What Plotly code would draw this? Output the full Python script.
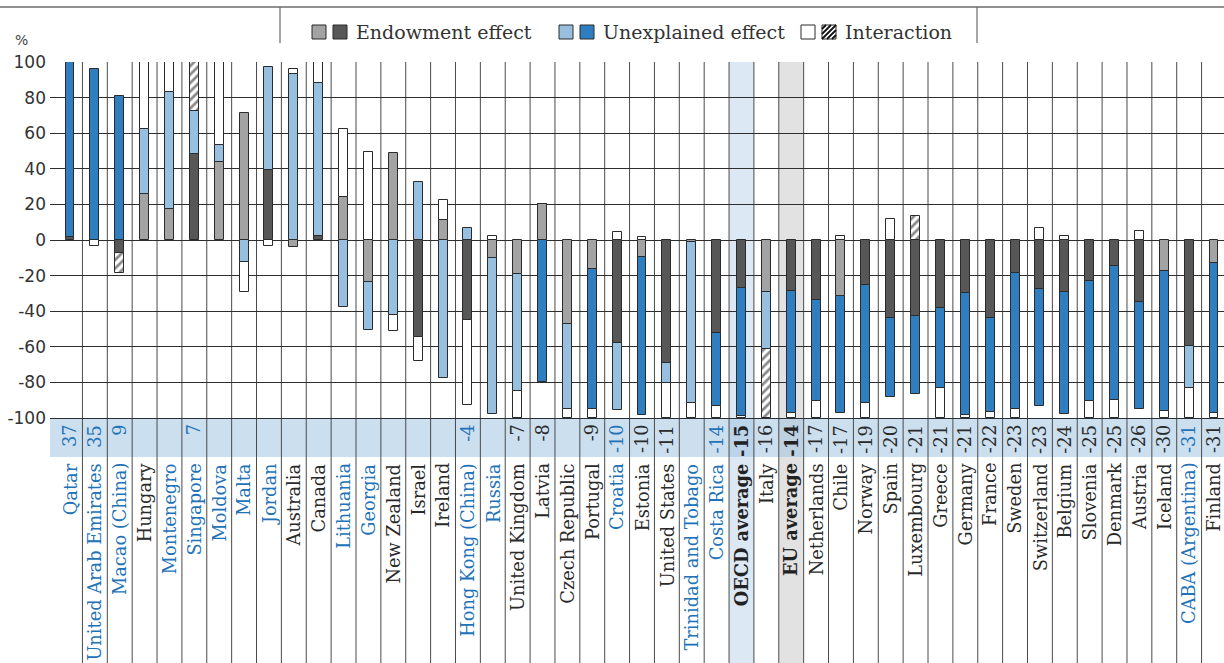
import plotly.graph_objects as go

countries = ["Qatar", "United Arab Emirates", "Macao (China)", "Hungary", "Montenegro", "Singapore",
             "Moldova", "Malta", "Jordan", "Australia", "Canada", "Lithuania", "Georgia", "New Zealand",
             "Israel", "Ireland", "Hong Kong (China)", "Russia", "United Kingdom", "Latvia",
             "Czech Republic", "Portugal", "Croatia", "Estonia", "United States", "Trinidad and Tobago",
             "Costa Rica", "OECD average", "Italy", "EU average", "Netherlands", "Chile", "Norway",
             "Spain", "Luxembourg", "Greece", "Germany", "France", "Sweden", "Switzerland", "Belgium",
             "Slovenia", "Denmark", "Austria", "Iceland", "CABA (Argentina)", "Finland"]
gaps = ["37", "35", "9", "", "", "7", "", "", "", "", "", "", "", "", "", "", "-4", "", "-7", "-8",
        "", "-9", "-10", "-10", "-11", "", "-14", "-15", "-16", "-14", "-17", "-17", "-19", "-20",
        "-21", "-21", "-21", "-22", "-23", "-23", "-24", "-25", "-25", "-26", "-30", "-31", "-31"]
partner = [1, 1, 1, 0, 1, 1, 1, 1, 1, 0, 0, 1, 1, 0, 0, 0, 1, 1, 0, 0, 0, 0, 1, 0, 0, 1, 1, 0, 0, 0,
           0, 0, 0, 0, 0, 0, 0, 0, 0, 0, 0, 0, 0, 0, 0, 1, 0]
average = [c.endswith("average") for c in countries]

endow = [1.5, 0, -7.5, 25.7, 17.2, 48.1, 43.6, 71.2, 39.1, -4.1, 2.2, 24.0, -23.4, 48.7, -54.7, 11.2,
         -45.0, -10.0, -19.3, 20.2, -47.4, -16.5, -58.0, -9.4, -69.3, -1.0, -52.4, -26.8, -29.4, -28.7,
         -33.7, -31.3, -25.3, -43.6, -42.5, -38.0, -29.6, -43.6, -18.4, -27.5, -29.0, -22.8, -14.4,
         -34.6, -17.2, -59.6, -12.7]
endow_sig = [1, 1, 1, 0, 0, 1, 0, 0, 1, 0, 1, 0, 0, 0, 1, 0, 1, 0, 0, 0, 0, 0, 1, 0, 1, 0, 1, 1, 0, 1,
             1, 0, 1, 1, 1, 1, 1, 1, 1, 1, 1, 1, 1, 1, 0, 1, 0]
unexpl = [98.3, 96.0, 81.1, 36.5, 65.8, 24.6, 9.8, -12.5, 57.9, 93.3, 85.8, -37.8, -27.2, -42.1, 32.4,
          -77.4, 6.9, -87.5, -65.7, -80.0, -47.6, -78.5, -37.7, -89.0, -11.2, -90.4, -40.6, -71.9,
          -31.8, -68.3, -56.6, -66.1, -66.5, -44.8, -44.0, -45.3, -68.7, -52.8, -76.6, -65.8, -68.8,
          -67.5, -75.5, -60.5, -78.7, -23.7, -84.3]
unexpl_sig = [1, 1, 1, 0, 0, 0, 0, 0, 0, 0, 0, 0, 0, 0, 0, 0, 0, 0, 0, 1, 0, 1, 0, 1, 0, 0, 1, 1, 0, 1,
              1, 1, 1, 1, 1, 1, 1, 1, 1, 1, 1, 1, 1, 1, 1, 0, 1]
inter = [0, -3.2, -11.2, 37.8, 17.0, 27.3, 46.6, -16.5, -3.2, 2.8, 12.0, 38.4, 49.6, -9.0, -13.1, 11.3,
         -47.7, 2.4, -15.0, 0, -5.0, -5.0, 4.3, 1.5, -19.5, -8.6, -7.0, -1.3, -38.8, -3.0, -9.7, 2.4,
         -8.2, 11.8, 13.7, -16.7, -1.7, -3.6, -5.0, 6.6, 2.4, -9.7, -10.1, 5.0, -4.1, -16.7, -3.0]
inter_sig = [0, 0, 1, 0, 0, 1, 0, 0, 0, 0, 0, 0, 0, 0, 0, 0, 0, 0, 0, 0, 0, 0, 0, 0, 0, 0, 0, 0, 1, 0,
             0, 0, 0, 0, 1, 0, 0, 0, 0, 0, 0, 0, 0, 0, 0, 0, 0]
y_ticks = [-100, -80, -60, -40, -20, 0, 20, 40, 60, 80, 100]

DGRAY, LGRAY = "#575757", "#a3a3a3"
DBLUE, LBLUE = "#2f7ec0", "#97bfdf"
LABEL_BLUE = "#2272b8"
OUT = "#2b2b2b"
SERIF = "DejaVu Serif"

W, H = 1224, 663
L, T = 50, 62
PW, PH = W - L, H - T
x_idx = list(range(len(countries)))
X0, X1 = -0.804, -0.804 + PW / 24.87
Y1 = 100
Y0 = Y1 - PH / 1.78


def pxx(p):
    return (p - L) / PW


def pxy(p):
    return (H - p) / PH


fig = go.Figure()
common = dict(x=x_idx, width=0.36, showlegend=False, hoverinfo="skip")
fig.add_trace(go.Bar(y=endow, marker=dict(color=[DGRAY if s else LGRAY for s in endow_sig],
                                           line=dict(color=OUT, width=1)), **common))
fig.add_trace(go.Bar(y=unexpl, marker=dict(color=[DBLUE if s else LBLUE for s in unexpl_sig],
                                            line=dict(color=OUT, width=1)), **common))
fig.add_trace(go.Bar(y=inter, marker=dict(color="white", line=dict(color=OUT, width=1),
                                           pattern=dict(shape=["/" if s else "" for s in inter_sig],
                                                        fgcolor="#111", bgcolor="white", size=6,
                                                        solidity=0.45)), **common))

shapes = []
for i, c in enumerate(countries):
    if c == "OECD average":
        shapes.append(dict(type="rect", xref="x", yref="paper", x0=i - 0.5, x1=i + 0.5, y0=0, y1=1,
                           fillcolor="#dce8f4", line=dict(width=0), layer="below"))
    if c == "EU average":
        shapes.append(dict(type="rect", xref="x", yref="paper", x0=i - 0.5, x1=i + 0.5, y0=0, y1=1,
                           fillcolor="#e2e2e2", line=dict(width=0), layer="below"))
shapes.append(dict(type="rect", xref="paper", yref="y", x0=0, x1=1, y0=-100, y1=-121.9,
                   fillcolor="rgba(153,191,223,0.5)", line=dict(width=0), layer="below"))
for i in range(len(countries) - 1):
    shapes.append(dict(type="line", xref="x", yref="paper", x0=i + 0.5, x1=i + 0.5, y0=0, y1=1,
                       line=dict(color="#4a4a4a", width=1), layer="between"))
shapes.append(dict(type="line", xref="paper", yref="paper", x0=pxx(0), x1=pxx(W), y0=pxy(7),
                   y1=pxy(7), line=dict(color="#6a6a6a", width=1.5)))
for xp in (280, 977):
    shapes.append(dict(type="line", xref="paper", yref="paper", x0=pxx(xp), x1=pxx(xp), y0=pxy(7),
                       y1=pxy(43), line=dict(color="#6a6a6a", width=1.2)))

leg_y0, leg_y1 = 25, 39
legend_items = [
    ((312, LGRAY), (333, DGRAY), 356, "Endowment effect"),
    ((559, LBLUE), (580, DBLUE), 603, "Unexplained effect"),
    ((801, "white"), (822, "hatch"), 845, "Interaction"),
]
annotations = []
for (xa, ca), (xb, cb), xt, txt in legend_items:
    for xs, col in ((xa, ca), (xb, cb)):
        shapes.append(dict(type="rect", xref="paper", yref="paper", x0=pxx(xs), x1=pxx(xs + 14),
                           y0=pxy(leg_y1), y1=pxy(leg_y0),
                           fillcolor="white" if col == "hatch" else col,
                           line=dict(color=OUT, width=1)))
        if col == "hatch":
            for k in range(-10, 15, 5):
                ax0, ay0 = xs + k, leg_y1
                ax1, ay1 = xs + k + 14, leg_y0
                if ax0 < xs:
                    ay0 -= (xs - ax0)
                    ax0 = xs
                if ax1 > xs + 14:
                    ay1 += (ax1 - (xs + 14))
                    ax1 = xs + 14
                if ax1 > ax0:
                    shapes.append(dict(type="line", xref="paper", yref="paper", x0=pxx(ax0),
                                       x1=pxx(ax1), y0=pxy(ay0), y1=pxy(ay1),
                                       line=dict(color="#111", width=1.8)))
    annotations.append(dict(xref="paper", yref="paper", x=pxx(xt - 2), y=pxy(32), text=txt,
                            showarrow=False, xanchor="left", yanchor="middle",
                            font=dict(family=SERIF, size=19, color="#333")))

annotations.append(dict(xref="paper", yref="paper", x=pxx(13), y=pxy(40), text="%", showarrow=False,
                        xanchor="left", yanchor="middle", font=dict(family="DejaVu Sans", size=14,
                                                                     color="#444")))

for i, c in enumerate(countries):
    col = "#222" if average[i] else (LABEL_BLUE if partner[i] else "#2a2a2a")
    txt = f"<b>{c}</b>" if average[i] else c
    annotations.append(dict(x=i, y=-124.3, xref="x", yref="y", text=txt, textangle=-90, showarrow=False,
                            xanchor="center", yanchor="top",
                            font=dict(family=SERIF, size=17.8, color=col)))
    if gaps[i]:
        g = f"<b>{gaps[i]}</b>" if average[i] else gaps[i]
        annotations.append(dict(x=i, y=-102.5, xref="x", yref="y", text=g, textangle=-90,
                                showarrow=False, xanchor="center", yanchor="top",
                                font=dict(family=SERIF, size=17.8, color=col)))

fig.update_layout(
    width=W, height=H, margin=dict(l=L, r=0, t=T, b=0, pad=0, autoexpand=False),
    barmode="relative", bargap=0, plot_bgcolor="white", paper_bgcolor="white",
    xaxis=dict(range=[X0, X1], showgrid=False, showticklabels=False, zeroline=False, showline=False,
               fixedrange=True, automargin=False),
    yaxis=dict(range=[Y0, Y1], tickvals=y_ticks, ticktext=[str(v) for v in y_ticks], showgrid=True,
               gridcolor="#2e2e2e", gridwidth=1, zeroline=False, showline=False, ticks="",
               ticklabelstandoff=3, automargin=False,
               tickfont=dict(family="DejaVu Sans", size=17, color="#333"), fixedrange=True),
    shapes=shapes, annotations=annotations,
)

fig.write_html("out.html", config={"displayModeBar": False},
               post_script="document.body.style.margin='0';document.body.style.overflow='hidden';")
